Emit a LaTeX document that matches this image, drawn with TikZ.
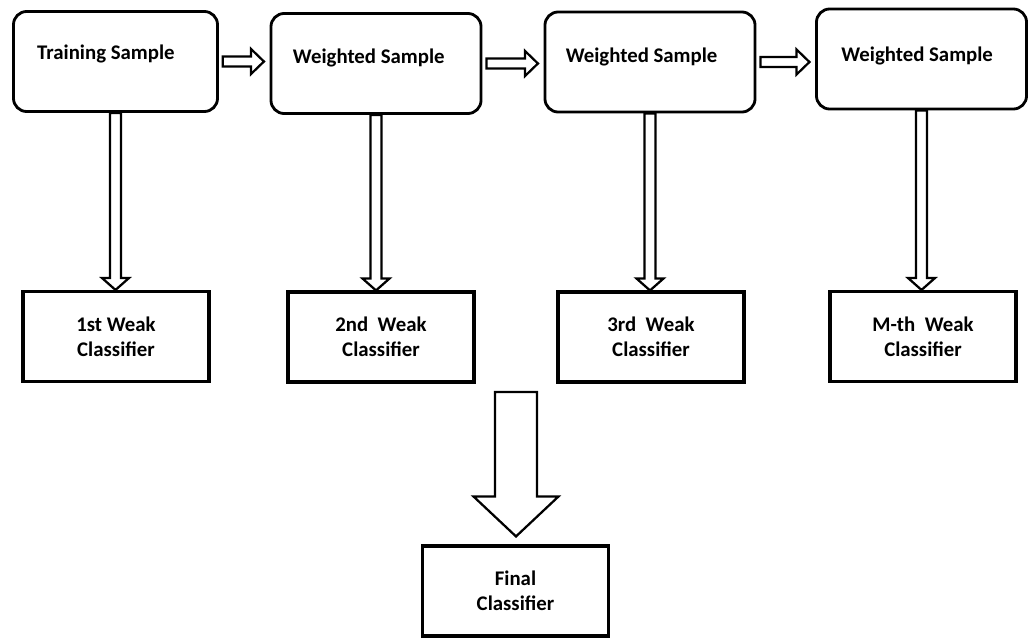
\documentclass[tikz,border=0pt]{standalone}
\usepackage{fontspec}
\setmainfont{Carlito}
\usepackage{tikz}
\usetikzlibrary{positioning, calc}
\tikzset{
    samplebox/.style={
        draw=black,
        line width=2pt,
        rounded corners=0.33cm,
        minimum width=5.25cm,
        minimum height=2.5cm,
        inner sep=0pt
    },
    classbox/.style={
        draw=black,
        line width=2.2pt,
        minimum width=4.65cm,
        minimum height=2.25cm,
        align=center,
        font=\bfseries\fontsize{14.8}{17.5}\selectfont
    },
    boxlabel/.style={
        anchor=base,
        inner sep=0pt,
        font=\bfseries\fontsize{14.8}{17.5}\selectfont
    },
    hollow/.style={
        draw=black,
        fill=white,
        line width=1.6pt,
        line join=miter
    }
}
\newcommand{\downarrowpath}[5]{%
  \draw[hollow] let \p1=(#1), \p2=(#2) in
    (\x1-#3,\y1) -- (\x1-#3,\y2+#5) -- (\x1-#4,\y2+#5) -- (\x1,\y2)
    -- (\x1+#4,\y2+#5) -- (\x1+#3,\y2+#5) -- (\x1+#3,\y1) -- cycle;}
\newcommand{\rightarrowpath}[5]{%
  \draw[hollow] let \p1=(#1), \p2=(#2) in
    (\x1,\y1-#3) -- (\x2-#5,\y1-#3) -- (\x2-#5,\y1-#4) -- (\x2,\y1)
    -- (\x2-#5,\y1+#4) -- (\x2-#5,\y1+#3) -- (\x1,\y1+#3) -- cycle;}

\begin{document}
\begin{tikzpicture}[x=0.025cm, y=-0.025cm]
      \useasboundingbox (0,0) rectangle (1030,639);

      \node[samplebox, minimum width=5.1cm] (t1) at (115.5,61.5) {};
      \node[samplebox] (t2) at (376,63.5) {};
      \node[samplebox] (t3) at (650,62)   {};
      \node[samplebox] (t4) at (921.5,59) {};

      \node[boxlabel] (l1) at ([xshift=-0.24cm, yshift=0.04cm]t1.center) {Training Sample};
      \node[boxlabel] (l2) at ([xshift=-0.18cm]t2.center) {Weighted Sample};
      \node[boxlabel] (l3) at ([xshift=-0.21cm]t3.center) {Weighted Sample};
      \node[boxlabel] (l4) at ([xshift=-0.11cm, yshift=-0.07cm]t4.center) {Weighted Sample};

      \node[classbox] (b1) at (116,336.5) {1st Weak\\Classifier};
      \node[classbox] (b2) at (381,337)   {2nd~~Weak\\Classifier};
      \node[classbox] (b3) at (651,337)   {3rd~~Weak\\Classifier};
      \node[classbox] (b4) at (923,336.5) {M-th~~Weak\\Classifier};

      \node[classbox] (fin) at (515.5,591) {Final\\Classifier};
      \coordinate (fs) at (516,392);

      \rightarrowpath{[xshift=2.8pt]t1.east}{[xshift=-4pt]t2.west}{3.6pt}{8.9pt}{9.2pt}
      \rightarrowpath{[xshift=2.8pt]t2.east}{[xshift=-4pt]t3.west}{3.6pt}{8.9pt}{9.2pt}
      \rightarrowpath{[xshift=2.8pt]t3.east}{[xshift=-4pt]t4.west}{3.6pt}{8.9pt}{9.2pt}

      \downarrowpath{t1.south}{b1.north}{3.9pt}{9.6pt}{8.5pt}
      \downarrowpath{t2.south}{b2.north}{3.9pt}{9.6pt}{8.5pt}
      \downarrowpath{t3.south}{b3.north}{3.9pt}{9.6pt}{8.5pt}
      \downarrowpath{t4.south}{b4.north}{3.9pt}{9.6pt}{8.5pt}

      \downarrowpath{fs}{[yshift=5.7pt]fin.north}{14.9pt}{30.2pt}{28.4pt}
    \end{tikzpicture}
\end{document}
